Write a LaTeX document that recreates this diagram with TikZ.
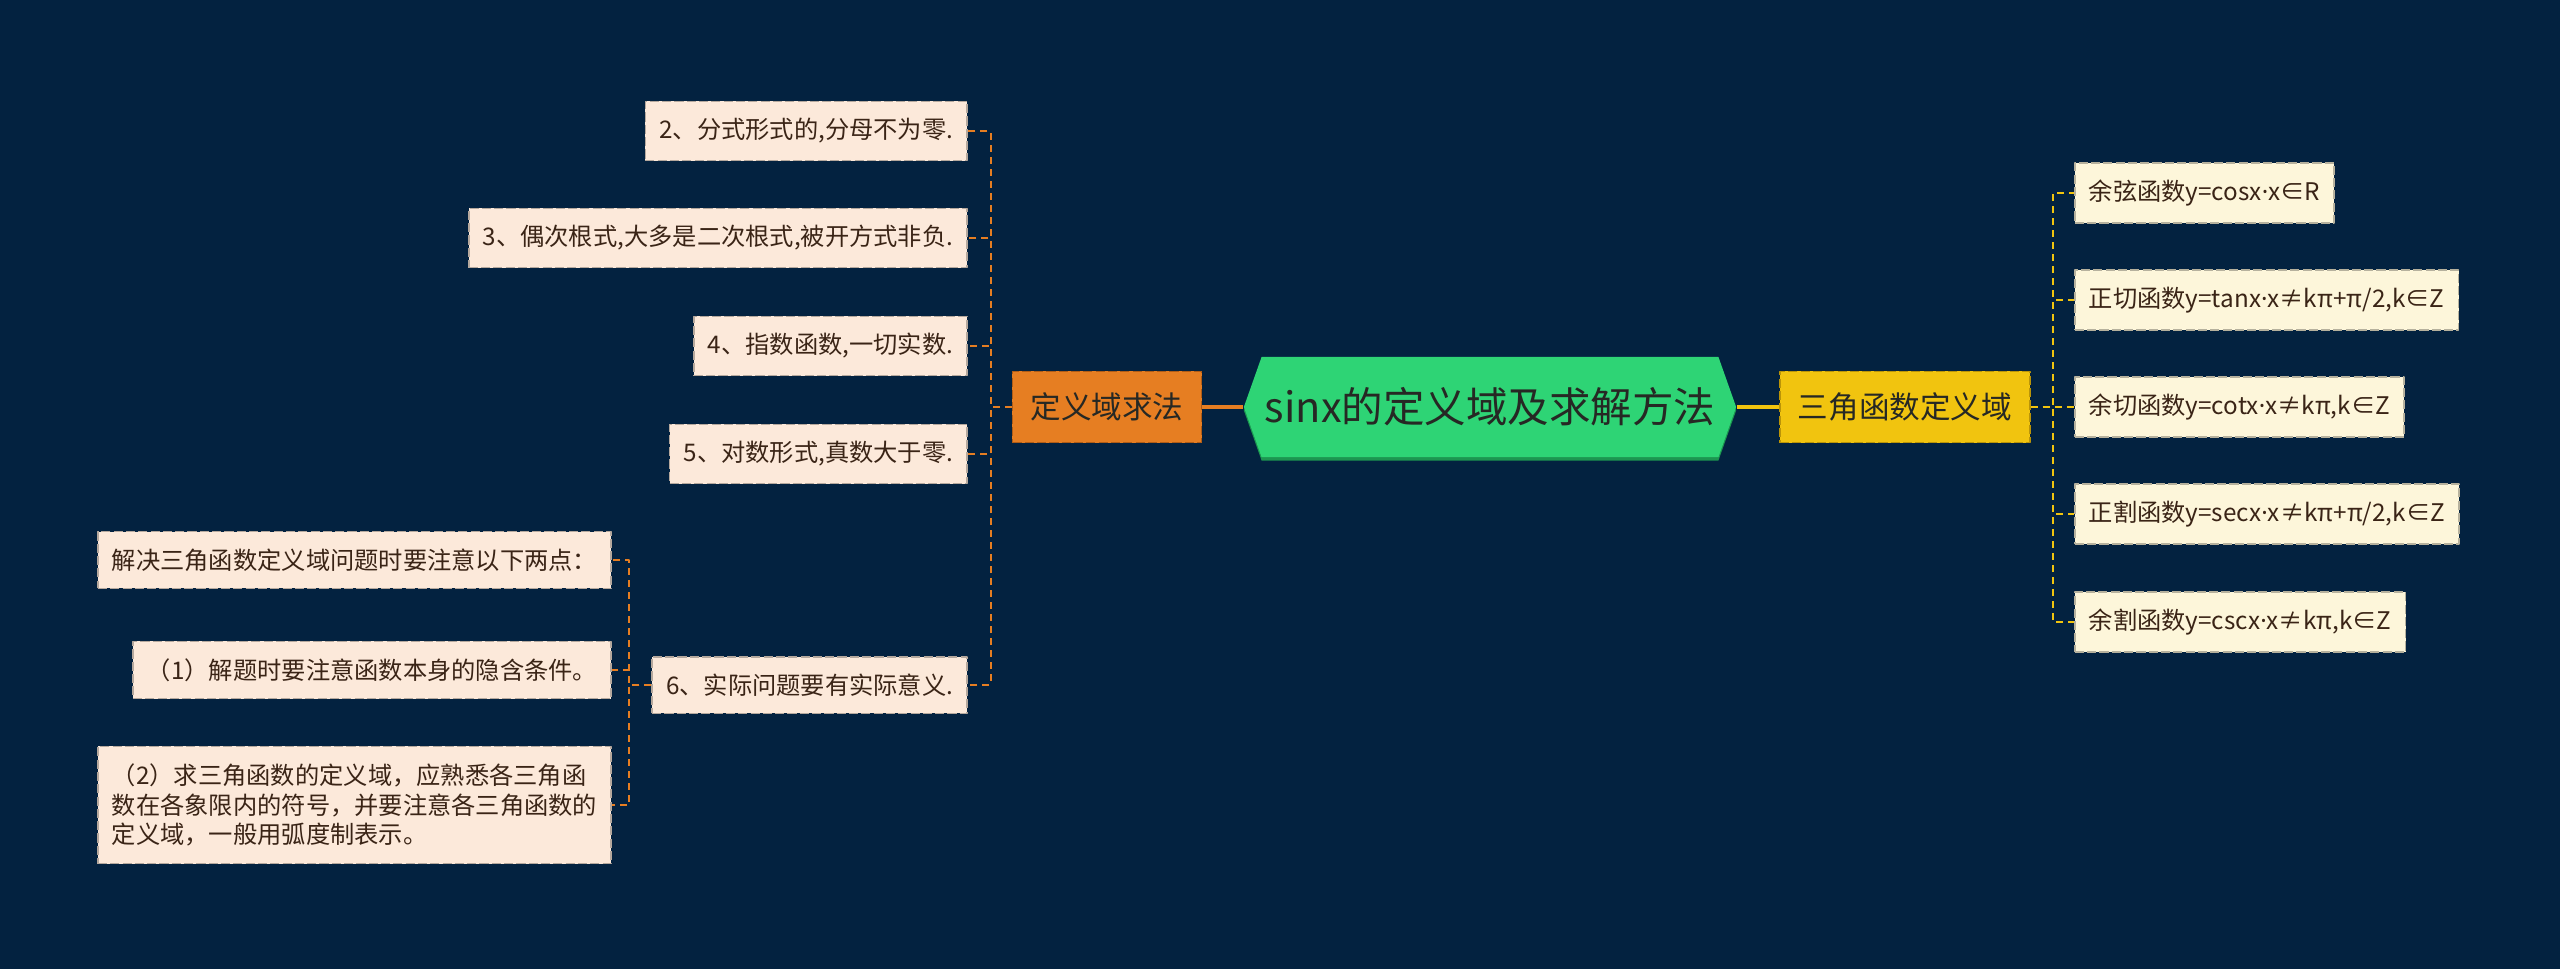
\documentclass[tikz,border=0pt]{standalone}
\usepackage{fontspec}
\setmainfont{Noto Sans CJK SC}
\newfontfamily\narrowfont{Noto Sans}
\newcommand{\mdot}{{\narrowfont ·}}
\usetikzlibrary{shapes.symbols, shadows, positioning}
\definecolor{mapNavy}{RGB}{3,34,64}
\definecolor{mapOrange}{RGB}{230,126,34}
\definecolor{mapOrangeDk}{RGB}{176,92,22}
\definecolor{mapYellow}{RGB}{241,196,15}
\definecolor{mapYellowDk}{RGB}{186,148,8}
\definecolor{mapGreen}{RGB}{46,212,117}
\definecolor{mapGreenDk}{RGB}{28,150,80}
\definecolor{mapPeach}{RGB}{252,233,218}
\definecolor{mapCream}{RGB}{253,246,218}
\definecolor{mapInk}{RGB}{58,36,22}
\definecolor{mapDark}{RGB}{38,40,36}
\tikzset{
    mapsheet/.style={x=0.01cm, y=-0.01cm, line join=round},
    topic/.style={signal, signal to=west and east, signal pointer angle=141,
                  fill=mapGreen, text=mapDark, minimum width=4.92cm,
                  minimum height=1.0cm, inner xsep=0pt,
                  font=\fontsize{11.8}{14}\selectfont,
                  drop shadow={shadow xshift=0pt, shadow yshift=-0.035cm,
                               fill=mapGreenDk, opacity=1}},
    subtopic/.style={draw, line width=0.5pt, dash pattern=on 2.6pt off 0.9pt,
                     minimum height=0.71cm, inner xsep=0.17cm,
                     text=mapDark, font=\fontsize{8.7}{11}\selectfont},
    leafL/.style={draw=mapPeach!72!black, fill=mapPeach, line width=0.45pt,
                  dash pattern=on 2.6pt off 0.9pt, minimum height=0.56cm,
                  inner xsep=0.14cm, inner ysep=0.17cm, text=mapInk,
                  align=left, font=\fontsize{6.9}{8.5}\selectfont},
    leafR/.style={leafL, draw=mapCream!72!black, fill=mapCream},
    branchL/.style={draw=mapOrange, line width=0.6pt,
                    dash pattern=on 0.07cm off 0.05cm},
    branchR/.style={branchL, draw=mapYellow},
    trunk/.style={line width=1.2pt},
}

\begin{document}
\begin{tikzpicture}[mapsheet]

% ─── Fond ───────────────────────────────────────────────────────────────
\useasboundingbox (0,0) rectangle (2560,969);
\fill[mapNavy] (0,0) rectangle (2560,969);

% ─── Centre et branches ─────────────────────────────────────────────────
\node[topic] (title) at (1490,407) {sinx的定义域及求解方法};
\node[subtopic, fill=mapOrange, draw=mapOrangeDk, minimum width=1.89cm]
    (method) at (1107,407) {定义域求法};
\node[subtopic, fill=mapYellow, draw=mapYellowDk, minimum width=2.5cm]
    (trig) at (1905,407) {三角函数定义域};

\draw[trunk, mapOrange] (title.west) -- (method.east);
\draw[trunk, mapYellow] (title.east) -- (trig.west);

% ─── Feuilles de gauche (求法) ──────────────────────────────────────────
\node[leafL, anchor=east] (fen)  at (968,131) {2、分式形式的,分母不为零.};
\node[leafL, anchor=east] (gen)  at (968,238) {3、偶次根式,大多是二次根式,被开方式非负.};
\node[leafL, anchor=east] (zhi)  at (968,346) {4、指数函数,一切实数.};
\node[leafL, anchor=east] (dui)  at (968,454) {5、对数形式,真数大于零.};
\node[leafL, anchor=east] (shi)  at (968,685) {6、实际问题要有实际意义.};

\foreach \n in {fen,gen,zhi,dui,shi}{
    \draw[branchL] (method.west) -- ++(-21,0) |- (\n.east);
}

% ─── Détails de la feuille 6 ────────────────────────────────────────────
\node[leafL, anchor=east] (twopts) at (612,560) {解决三角函数定义域问题时要注意以下两点：};
\node[leafL, anchor=east] (hint)   at (612,670) {（1）解题时要注意函数本身的隐含条件。};
\node[leafL, anchor=east] (sign)   at (612,805)
    {（2）求三角函数的定义域，应熟悉各三角函\\数在各象限内的符号，并要注意各三角函数的\\定义域，一般用弧度制表示。};

\foreach \n in {twopts,hint,sign}{
    \draw[branchL] (shi.west) -- ++(-22,0) |- (\n.east);
}

% ─── Feuilles de droite (三角函数) ──────────────────────────────────────
\node[leafR, anchor=west] (cosf) at (2074,193) {余弦函数y=cosx\mdot x∈R};
\node[leafR, anchor=west] (tanf) at (2074,300) {正切函数y=tanx\mdot x≠kπ+π/2,k∈Z};
\node[leafR, anchor=west] (cotf) at (2074,407) {余切函数y=cotx\mdot x≠kπ,k∈Z};
\node[leafR, anchor=west] (secf) at (2074,514) {正割函数y=secx\mdot x≠kπ+π/2,k∈Z};
\node[leafR, anchor=west] (cscf) at (2074,622) {余割函数y=cscx\mdot x≠kπ,k∈Z};

\foreach \n in {cosf,tanf,cotf,secf,cscf}{
    \draw[branchR] (trig.east) -- ++(22,0) |- (\n.west);
}

\end{tikzpicture}
\end{document}
